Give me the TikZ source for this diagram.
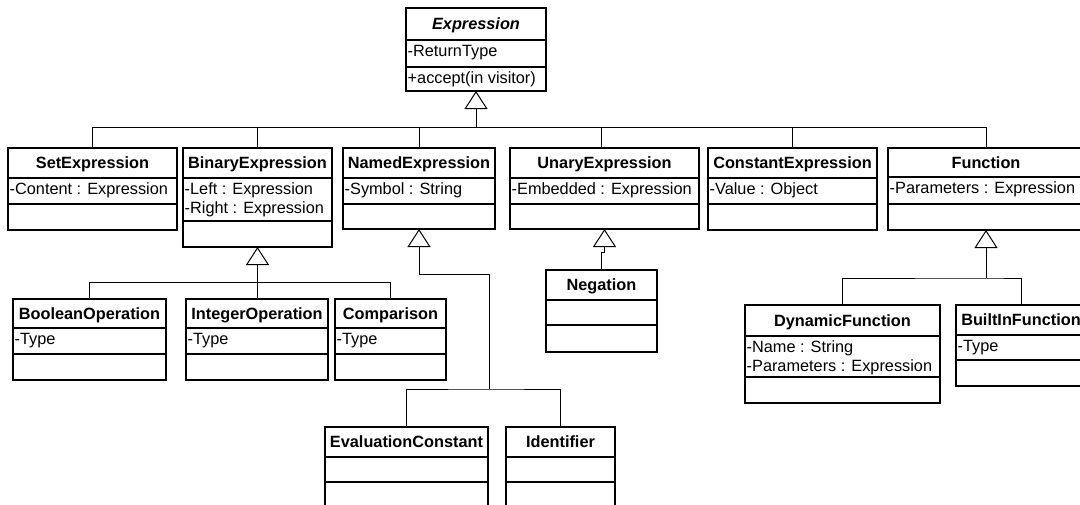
\documentclass[tikz,border=0pt]{standalone}
\usepackage{fontspec}
\setmainfont{Liberation Sans}
\usetikzlibrary{arrows.meta}

\tikzset{
  classbox/.style={draw, rectangle, line width=1.1pt, inner sep=0pt, outer sep=0pt},
  classrule/.style={line width=1.1pt},
  titletext/.style={font=\fontsize{16.3}{19}\selectfont\bfseries, inner sep=0pt, anchor=base},
  membertext/.style={font=\fontsize{16.3}{19}\selectfont, inner sep=0pt, anchor=base west},
  link/.style={line width=1pt},
  generalization/.style={link, -{Triangle[open, length=18pt, width=23pt, line width=1pt]}},
}

% UML class box: name, left, top, right, bottom, end of name part, end of attribute part, title
\newcommand\umlclass[8]{%
  \node[classbox, minimum width={(#4-#2)*1pt}, minimum height={(#5-#3)*1pt}]
    (#1) at ({(#2+#4)/2},{(#3+#5)/2}) {};
  \draw[classrule] (#2,#6) -- (#4,#6) (#2,#7) -- (#4,#7);
  \node[titletext] (#1-name) at ({(#2+#4)/2},{(#3+#6)/2+5.5}) {#8};
  \coordinate (#1-attr) at (#2+1.5,#6+16.5);
  \coordinate (#1-op) at (#2+1.5,#7+16.5);
}
% one member line: class, compartment (attr/op), line number, text
\newcommand\umlmember[4]{%
  \node[membertext] (#1-#2-#3) at ([yshift={-(#3-1)*18.5pt}]#1-#2) {#4};
}

\begin{document}
\begin{tikzpicture}[x=1pt, y=-1pt]
\useasboundingbox (0,0) rectangle (1080,504);
\clip (0,0) rectangle (1080,504);

% root
\umlclass{expr}{406}{8}{546}{91}{40}{67}{\itshape Expression}
\umlmember{expr}{attr}{1}{-ReturnType}
\umlmember{expr}{op}{1}{+accept(in visitor)}

% first level
\umlclass{set}{8}{148}{177}{230}{178}{204}{SetExpression}
\umlmember{set}{attr}{1}{-Content : Expression}

\umlclass{binary}{183}{148}{332}{247}{178}{221}{BinaryExpression}
\umlmember{binary}{attr}{1}{-Left : Expression}
\umlmember{binary}{attr}{2}{-Right : Expression}

\umlclass{named}{343}{148}{495}{229}{178}{204}{NamedExpression}
\umlmember{named}{attr}{1}{-Symbol : String}

\umlclass{unary}{510}{148}{699}{229}{178}{204}{UnaryExpression}
\umlmember{unary}{attr}{1}{-Embedded : Expression}

\umlclass{constant}{708}{148}{877}{230}{178}{204}{ConstantExpression}
\umlmember{constant}{attr}{1}{-Value : Object}

\umlclass{function}{888}{148}{1084}{230}{177}{204}{Function}
\umlmember{function}{attr}{1}{-Parameters : Expression}

% second level
\umlclass{boolean}{13}{299}{166}{380}{328}{354}{BooleanOperation}
\umlmember{boolean}{attr}{1}{-Type}

\umlclass{integer}{186}{299}{328}{380}{328}{354}{IntegerOperation}
\umlmember{integer}{attr}{1}{-Type}

\umlclass{comparison}{335}{299}{446}{380}{328}{354}{Comparison}
\umlmember{comparison}{attr}{1}{-Type}

\umlclass{negation}{546}{270}{657}{352}{300}{325}{Negation}

\umlclass{dynamic}{745}{305}{940}{403}{336}{377}{DynamicFunction}
\umlmember{dynamic}{attr}{1}{-Name : String}
\umlmember{dynamic}{attr}{2}{-Parameters : Expression}

\umlclass{builtin}{956}{305}{1086}{386}{335}{360}{BuiltInFunction}
\umlmember{builtin}{attr}{1}{-Type}

\umlclass{eval}{325}{427}{488}{508}{457}{482}{EvaluationConstant}
\umlclass{ident}{506}{427}{615}{508}{457}{482}{Identifier}

% generalization: first level -> Expression
\coordinate (exprbus) at (476,127);
\draw[generalization] (exprbus) -- (expr.south);
\draw[link] (set.north) |- (exprbus);
\draw[link] (binary.north) |- (exprbus);
\draw[link] (named.north) |- (exprbus);
\draw[link] ([xshift=-3.5pt]unary.north) |- (exprbus);
\draw[link] (constant.north) |- (exprbus);
\draw[link] (function.north) |- (exprbus);

% BinaryExpression subclasses
\coordinate (binbus) at (257.5,282);
\draw[generalization] (binbus) -- (binary.south);
\draw[link] (boolean.north) |- (binbus);
\draw[link] (integer.north) |- (binbus);
\draw[link] (comparison.north) |- (binbus);

% NamedExpression subclasses
\coordinate (namedbend) at (419,274);
\coordinate (namedbus) at (489,389);
\draw[generalization] (namedbus) |- (namedbend) -- (named.south);
\draw[link] (eval.north) |- (namedbus) -| (ident.north);

% UnaryExpression subclass
\coordinate (negbend) at (601.5,252);
\draw[generalization] (negation.north) -- (negbend) -| (unary.south);

% Function subclasses
\coordinate (funcbus) at (986,278);
\draw[generalization] (funcbus) -- (function.south);
\draw[link] (dynamic.north) |- (funcbus) -| (builtin.north);
\end{tikzpicture}
\end{document}
